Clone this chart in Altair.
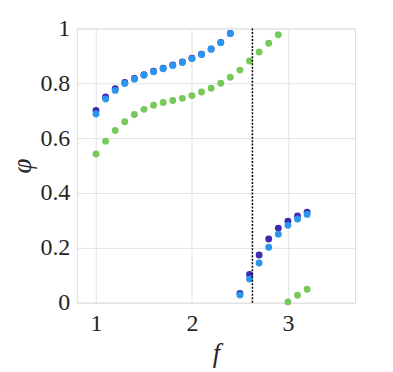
import altair as alt
import pandas as pd

# ---- data ----
f_upper_blue = [1.0, 1.1, 1.2, 1.3, 1.4, 1.5, 1.6, 1.7, 1.8, 1.9, 2.0, 2.1, 2.2, 2.3, 2.4]
phi_dark_upper = [0.701, 0.750, 0.780, 0.803, 0.818, 0.831, 0.844, 0.855, 0.867, 0.878, 0.891, 0.906, 0.925, 0.949, 0.982]
phi_light_upper = [0.688, 0.743, 0.774, 0.799, 0.815, 0.829, 0.842, 0.853, 0.865, 0.876, 0.890, 0.905, 0.924, 0.948, 0.981]

f_lower_blue = [2.5, 2.6, 2.7, 2.8, 2.9, 3.0, 3.1, 3.2]
phi_dark_lower = [0.034, 0.103, 0.174, 0.232, 0.272, 0.297, 0.316, 0.330]
phi_light_lower = [0.028, 0.086, 0.145, 0.202, 0.250, 0.282, 0.305, 0.322]

f_green_upper = [1.0, 1.1, 1.2, 1.3, 1.4, 1.5, 1.6, 1.7, 1.8, 1.9,
                 2.0, 2.1, 2.2, 2.3, 2.4, 2.5, 2.6, 2.7, 2.8, 2.9]
phi_green_upper = [0.542, 0.589, 0.628, 0.660, 0.686, 0.705, 0.720, 0.730, 0.737, 0.745,
                   0.755, 0.768, 0.782, 0.800, 0.822, 0.848, 0.881, 0.914, 0.946, 0.977]
f_green_lower = [3.0, 3.1, 3.2]
phi_green_lower = [0.003, 0.027, 0.049]

f_critical = [2.63]

x_ticks = [1, 2, 3]
y_ticks = [0, 0.2, 0.4, 0.6, 0.8, 1]

series_names = ["dark", "light", "green"]
series_colors = ["#3d2bb0", "#2c96ec", "#78c95b"]

rows = []
for f, p in zip(f_upper_blue + f_lower_blue, phi_dark_upper + phi_dark_lower):
    rows.append({"f": f, "phi": p, "s": "dark", "o": 0})
for f, p in zip(f_upper_blue + f_lower_blue, phi_light_upper + phi_light_lower):
    rows.append({"f": f, "phi": p, "s": "light", "o": 1})
for f, p in zip(f_green_upper + f_green_lower, phi_green_upper + phi_green_lower):
    rows.append({"f": f, "phi": p, "s": "green", "o": 2})
df = pd.DataFrame(rows)

FONT = "Liberation Serif, DejaVu Serif, serif"
TXT = "#262626"

x_scale = alt.Scale(domain=[0.8, 3.7], nice=False, zero=False)
y_scale = alt.Scale(domain=[0, 1], nice=False)

common_axis = dict(
    grid=True, gridColor="#e2e2e2", gridWidth=1, ticks=False, domain=False,
    labelFont=FONT, labelFontSize=24, labelColor=TXT,
    titleFont=FONT, titleFontSize=27, titleFontStyle="italic",
    titleFontWeight="normal", titleColor=TXT,
)

points = alt.Chart(df).mark_circle(size=48, opacity=1, clip=False).encode(
    x=alt.X("f:Q", scale=x_scale,
            axis=alt.Axis(values=x_ticks, title="f", format="d",
                          labelPadding=9, titlePadding=5, **common_axis)),
    y=alt.Y("phi:Q", scale=y_scale,
            axis=alt.Axis(values=y_ticks, title="φ", format=".1~f",
                          labelPadding=7, titlePadding=3, **common_axis)),
    color=alt.Color("s:N", scale=alt.Scale(domain=series_names, range=series_colors), legend=None),
    order=alt.Order("o:Q"),
)

vline = alt.Chart(pd.DataFrame({"f": f_critical})).mark_rule(
    color="black", strokeWidth=1.5, strokeDash=[2, 1.5]
).encode(x=alt.X("f:Q", scale=x_scale))

chart = alt.layer(points, vline).properties(
    width=279, height=275,
    autosize=alt.AutoSizeParams(type="none"),
    padding={"left": 69, "top": 20, "right": 30, "bottom": 68},
).configure_view(
    stroke="#5a5a5a", strokeWidth=1,
).configure(background="white")

chart.save("out.html", embed_options={"renderer": "svg", "actions": False})
